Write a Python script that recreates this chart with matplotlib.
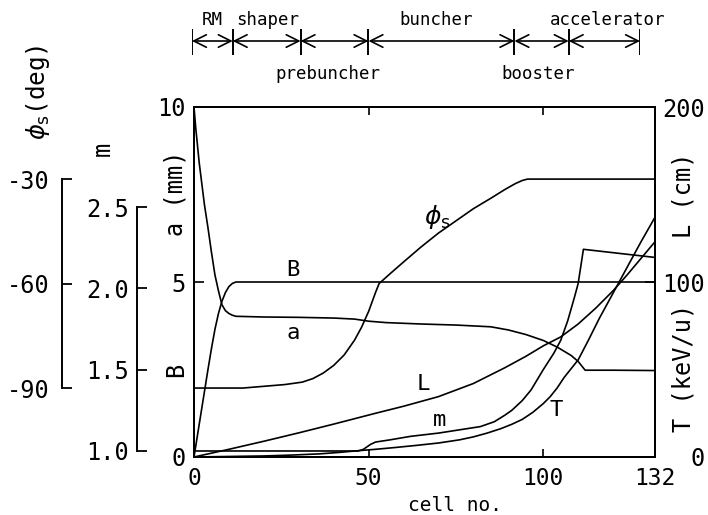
import matplotlib
matplotlib.use("Agg")
import matplotlib.pyplot as plt

plt.rcParams['font.family'] = ['DejaVu Sans Mono', 'DejaVu Sans']
plt.rcParams['mathtext.fontset'] = 'dejavusans'
plt.rcParams['axes.unicode_minus'] = False

# ---- RFQ sections (cell no.) ----
section_edges = [0, 12, 32, 52, 95, 111, 132]
section_names = ["RM", "shaper", "prebuncher", "buncher", "booster", "accelerator"]

# ---- aperture a (mm) ----
cell_a = [0, 0.5, 1, 1.5, 2, 3, 4, 5, 6, 7, 8, 9, 10, 11, 12, 20, 30, 40, 46, 50,
          55, 65, 75, 85, 90, 95, 100, 104, 108, 110, 112, 120, 132]
a_mm = [10.0, 9.4, 8.9, 8.4, 8.0, 7.2, 6.55, 5.85, 5.2, 4.75, 4.35, 4.18, 4.1, 4.05, 4.02,
        4.0, 3.99, 3.97, 3.94, 3.88, 3.84, 3.8, 3.77, 3.72, 3.63, 3.5, 3.33, 3.14, 2.9,
        2.73, 2.48, 2.48, 2.47]

# ---- focusing strength B ----
cell_B = [0, 2, 4, 5, 6, 7, 8, 9, 10, 11, 12, 132]
B_val = [0, 1.25, 2.5, 3.1, 3.65, 4.1, 4.45, 4.7, 4.87, 4.96, 5.0, 5.0]

# ---- synchronous phase (deg) ----
cell_phi = [0, 14, 20, 26, 31, 34, 37, 40, 43, 46, 48, 50, 52, 53, 56, 60, 65, 70, 75,
            80, 85, 89, 92, 94, 95.5, 132]
phi_s = [-90, -90, -89.5, -89, -88.3, -87.3, -85.7, -83.5, -80.5, -76.2, -72.5, -68,
         -62.5, -60, -57.3, -53.8, -49.5, -45.5, -42, -38.5, -35.5, -33, -31.3, -30.4,
         -30, -30]

# ---- modulation m ----
cell_m = [0, 47, 48.5, 49.5, 50.5, 52, 56, 62, 70, 76, 82, 86, 89, 91, 94, 96.5, 100,
          103, 105, 107, 109, 110, 111.5, 132]
m_val = [1.0, 1.0, 1.01, 1.025, 1.04, 1.055, 1.068, 1.09, 1.11, 1.13, 1.15, 1.18, 1.22,
         1.25, 1.31, 1.375, 1.5, 1.6, 1.68, 1.8, 1.95, 2.03, 2.24, 2.19]

# ---- cumulative length L (cm) ----
cell_L = [0, 10, 20, 30, 40, 52, 60, 70, 80, 89, 95, 100, 105, 110, 115, 120, 124, 128, 132]
L_cm = [0, 4.4, 9, 13.8, 18.8, 25, 29, 34.5, 42, 51, 57.5, 63.5, 68.6, 76, 85, 95, 104,
        113.5, 123]

# ---- energy T (keV/u) ----
cell_T = [0, 10, 20, 28, 36, 42, 47, 52, 58, 64, 70, 76, 80, 84, 88, 91, 94, 97, 100,
          102, 104, 106, 108, 110, 113, 116, 119, 122, 125, 128, 130, 132]
T_keV = [0, 0.3, 0.6, 1.1, 1.8, 2.7, 3.6, 4.4, 5.5, 6.7, 8, 9.8, 11.5, 13.7, 16.3, 18.7,
         21.5, 25.5, 30.5, 34.5, 39.5, 45.5, 50.5, 55.5, 67, 79, 90, 101, 112, 123, 130, 137]

W, H = 708, 515
fig = plt.figure(figsize=(W / 100, H / 100), dpi=100)


def fx(px):
    return px / W


def fy(py):
    return 1 - py / H


X0, X1, Y0, Y1 = 194, 655, 107, 457          # plot frame (pixels)
rect = [fx(X0), fy(Y1), (X1 - X0) / W, (Y1 - Y0) / H]
LW = 1.2
TICK_FS = 17

# main axes: a (mm) and B
ax = fig.add_axes(rect)
ax.set_xlim(0, 132)
ax.set_ylim(0, 10)
ax.set_xticks([0, 50, 100, 132])
ax.set_yticks([0, 5, 10])
ax.set_yticklabels(["0", "5", "10"])
ax.tick_params(axis='x', direction='in', length=6, width=1.2, top=True,
               labelsize=16.5, pad=7)
ax.tick_params(axis='y', direction='in', length=7, width=1.2, labelsize=TICK_FS, pad=6)
for s in ax.spines.values():
    s.set_linewidth(1.4)
ax.plot(cell_a, a_mm, color='k', lw=LW)
ax.plot(cell_B, B_val, color='k', lw=LW)

# right axis: L (cm) and T (keV/u); labels flush right
axr = ax.twinx()
axr.set_ylim(0, 200)
axr.set_yticks([0, 100, 200])
axr.tick_params(axis='y', direction='in', length=7, width=1.2, labelsize=TICK_FS, pad=36)
for lab in axr.get_yticklabels():
    lab.set_horizontalalignment('right')
axr.plot(cell_L, L_cm, color='k', lw=LW)
axr.plot(cell_T, T_keV, color='k', lw=LW)
for s in axr.spines.values():
    s.set_linewidth(1.4)

# hidden scale for phi_s
PHI_LIM = (-109.8, -9.3)
axp = ax.twinx()
axp.set_ylim(*PHI_LIM)
axp.axis('off')
axp.plot(cell_phi, phi_s, color='k', lw=LW)

# hidden scale for m
M_LIM = (0.963, 3.115)
axm = ax.twinx()
axm.set_ylim(*M_LIM)
axm.axis('off')
axm.plot(cell_m, m_val, color='k', lw=LW)


# bracket scales on the left
def bracket(xpix, lim, ticks, labels, pad):
    b = fig.add_axes([fx(xpix), fy(Y1), 0.0005, (Y1 - Y0) / H])
    b.set_ylim(*lim)
    b.patch.set_visible(False)
    for k in ('top', 'right', 'bottom'):
        b.spines[k].set_visible(False)
    b.spines['left'].set_bounds(ticks[0], ticks[-1])
    b.spines['left'].set_linewidth(1.4)
    b.set_xticks([])
    b.set_yticks(ticks)
    b.set_yticklabels(labels)
    b.tick_params(axis='y', direction='in', length=7, width=1.3, labelsize=TICK_FS, pad=pad)
    return b


bracket(62, PHI_LIM, [-90, -60, -30], ["-90", "-60", "-30"], 9)
bracket(137, M_LIM, [1.0, 1.5, 2.0, 2.5], ["1.0", "1.5", "2.0", "2.5"], 6)

# axis titles
fig.text(fx(38), fy(92), r"$\phi_\mathrm{s}$(deg)", rotation=90, fontsize=17.5,
         ha='center', va='center')
fig.text(fx(103), fy(149), "m", rotation=90, fontsize=17, ha='center', va='center')
fig.text(fx(176), fy(193), "a (mm)", rotation=90, fontsize=17, ha='center', va='center')
fig.text(fx(176), fy(370), "B", rotation=90, fontsize=17, ha='center', va='center')
fig.text(fx(684), fy(195), "L (cm)", rotation=90, fontsize=17, ha='center', va='center')
fig.text(fx(684), fy(368), "T (keV/u)", rotation=90, fontsize=17, ha='center', va='center')
fig.text(fx(455), fy(511), "cell no.", fontsize=14, ha='center', va='baseline')

# curve labels (main-axes data coordinates)
ax.text(28.3, 5.35, "B", fontsize=16, ha='center', va='center')
ax.text(28.3, 3.55, "a", fontsize=16, ha='center', va='center')
ax.text(69.6, 6.85, r"$\phi_\mathrm{s}$", fontsize=18, ha='center', va='center')
ax.text(65.6, 2.1, "L", fontsize=16, ha='center', va='center')
ax.text(70.4, 1.07, "m", fontsize=16, ha='center', va='center')
ax.text(103.8, 1.35, "T", fontsize=16, ha='center', va='center')

# section bar on top (its own horizontal scale, cells 0..132)
TX0, TX1 = 192, 640
axt = fig.add_axes([fx(TX0), fy(80), (TX1 - TX0) / W, 80 / H])
axt.set_xlim(0, 132)
axt.set_ylim(80, 0)
axt.axis('off')
axt.vlines(section_edges, 29, 55, color='k', lw=1.4)
for x0, x1 in zip(section_edges[:-1], section_edges[1:]):
    axt.annotate('', xy=(x1, 41), xytext=(x0, 41),
                 arrowprops=dict(arrowstyle='<->,head_length=0.5,head_width=0.25',
                                 lw=1.2, color='k', shrinkA=0, shrinkB=0,
                                 mutation_scale=18))
label_x = [5.9, 22.4, 40, 72, 102, 122.6]
above = [True, True, False, True, False, True]
for name, lx, up in zip(section_names, label_x, above):
    if up:
        axt.text(lx, 25, name, fontsize=12.5, ha='center', va='baseline')
    else:
        axt.text(lx, 65, name, fontsize=12.5, ha='center', va='top')

fig.savefig("out.png", dpi=100)
